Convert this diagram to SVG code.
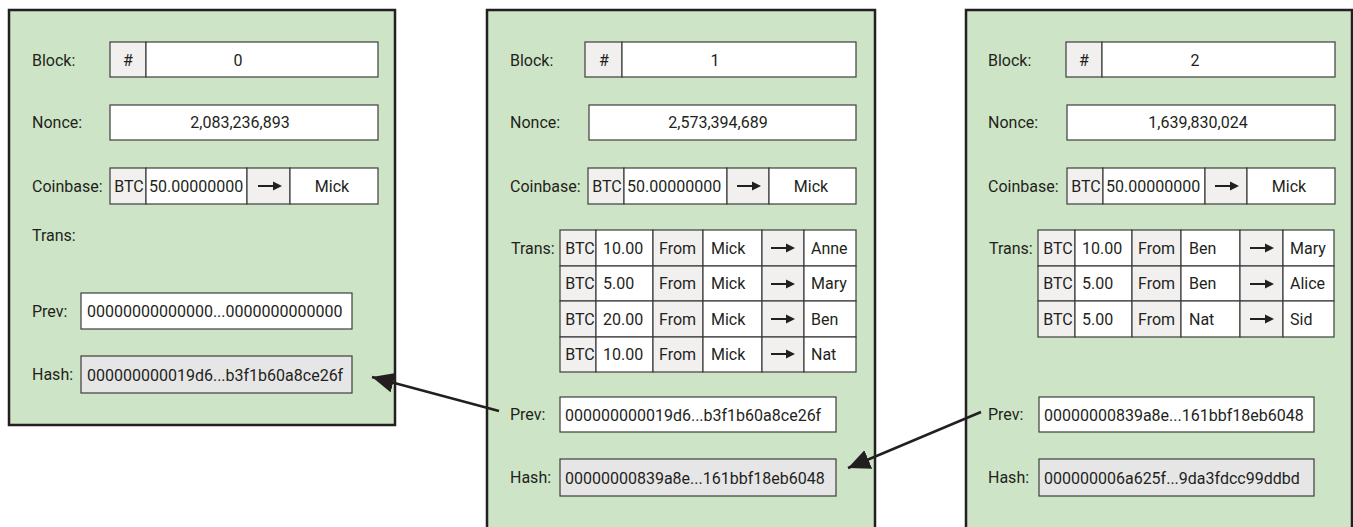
<svg xmlns="http://www.w3.org/2000/svg" xmlns:xlink="http://www.w3.org/1999/xlink" width="1353" height="527" viewBox="0 0 1353 527">
  <style>
    .panel { fill: #cde5c6; stroke: #231f20; stroke-width: 2.5; }
    .box { fill: #ffffff; stroke: #3c3c3c; stroke-width: 1.2; }
    .grey { fill: #f1f0ef; stroke: #3c3c3c; stroke-width: 1.2; }
    .hash { fill: #e6e6e6; stroke: #3c3c3c; stroke-width: 1.2; }
    text { font-family: Roboto, "Open Sans", "Liberation Sans", sans-serif; font-size: 16px; fill: #231f20; }
    .c { text-anchor: middle; }
    .link { fill: none; stroke: #231f20; stroke-width: 2.5; }
  </style>
  <defs>
    <!-- small right arrow used inside the transfer cells -->
    <g id="arr">
      <line x1="-12" y1="0" x2="4" y2="0" stroke="#231f20" stroke-width="2"/>
      <polygon points="3,-4.5 12,0 3,4.5" fill="#231f20"/>
    </g>
    <marker id="head" markerUnits="userSpaceOnUse" markerWidth="24" markerHeight="22" refX="22" refY="10" orient="auto">
      <path d="M0,0 L22,10 L0,20 z" fill="#231f20"/>
    </marker>
  </defs>

  <!-- Block 0 -->
  <g id="block0">
    <rect class="panel" x="9" y="10" width="386" height="415"/>
    <text x="32" y="66">Block:</text>
    <rect class="grey" x="110" y="42" width="36" height="35"/>
    <rect class="box" x="146" y="42" width="232" height="35"/>
    <text class="c" x="128" y="66">#</text>
    <text class="c" x="238" y="66">0</text>

    <text x="32" y="128">Nonce:</text>
    <rect class="box" x="110" y="105" width="268" height="35"/>
    <text class="c" x="240" y="128">2,083,236,893</text>

    <text x="32" y="192">Coinbase:</text>
    <rect class="grey" x="110" y="168" width="36" height="36"/>
    <rect class="box" x="146" y="168" width="101" height="36"/>
    <rect class="grey" x="247" y="168" width="43" height="36"/>
    <rect class="box" x="290" y="168" width="88" height="36"/>
    <text class="c" x="129" y="192">BTC</text>
    <text x="149" y="192">50.00000000</text>
    <use xlink:href="#arr" x="270" y="186"/>
    <text class="c" x="332" y="192">Mick</text>

    <text x="32" y="241">Trans:</text>

    <text x="32" y="317">Prev:</text>
    <rect class="box" x="81" y="293" width="271" height="36"/>
    <text x="87" y="317">00000000000000...0000000000000</text>

    <text x="32" y="380">Hash:</text>
    <rect class="hash" x="81" y="356" width="271" height="37"/>
    <text x="87" y="381">000000000019d6...b3f1b60a8ce26f</text>
  </g>

  <!-- Block 1 -->
  <g id="block1" transform="translate(478,0)">
    <rect class="panel" x="9" y="10" width="388" height="530"/>
    <text x="32" y="66">Block:</text>
    <rect class="grey" x="107" y="42" width="37" height="35"/>
    <rect class="box" x="144" y="42" width="234" height="35"/>
    <text class="c" x="126" y="66">#</text>
    <text class="c" x="237" y="66">1</text>

    <text x="32" y="128">Nonce:</text>
    <rect class="box" x="111" y="105" width="267" height="35"/>
    <text class="c" x="240" y="128">2,573,394,689</text>

    <text x="32" y="192">Coinbase:</text>
    <rect class="grey" x="110" y="168" width="36" height="36"/>
    <rect class="box" x="146" y="168" width="103" height="36"/>
    <rect class="grey" x="249" y="168" width="42" height="36"/>
    <rect class="box" x="291" y="168" width="87" height="36"/>
    <text class="c" x="129" y="192">BTC</text>
    <text x="149" y="192">50.00000000</text>
    <use xlink:href="#arr" x="271" y="186"/>
    <text class="c" x="333" y="192">Mick</text>

    <text x="33" y="254">Trans:</text>
    <g id="tx1">
      <!-- row 1 -->
      <rect class="grey" x="82" y="230" width="36" height="36"/>
      <rect class="box" x="118" y="230" width="57" height="36"/>
      <rect class="grey" x="175" y="230" width="50" height="36"/>
      <rect class="box" x="225" y="230" width="59" height="36"/>
      <rect class="grey" x="284" y="230" width="42" height="36"/>
      <rect class="box" x="326" y="230" width="52" height="36"/>
      <!-- row 2 -->
      <rect class="grey" x="82" y="266" width="36" height="35"/>
      <rect class="box" x="118" y="266" width="57" height="35"/>
      <rect class="grey" x="175" y="266" width="50" height="35"/>
      <rect class="box" x="225" y="266" width="59" height="35"/>
      <rect class="grey" x="284" y="266" width="42" height="35"/>
      <rect class="box" x="326" y="266" width="52" height="35"/>
      <!-- row 3 -->
      <rect class="grey" x="82" y="301" width="36" height="36"/>
      <rect class="box" x="118" y="301" width="57" height="36"/>
      <rect class="grey" x="175" y="301" width="50" height="36"/>
      <rect class="box" x="225" y="301" width="59" height="36"/>
      <rect class="grey" x="284" y="301" width="42" height="36"/>
      <rect class="box" x="326" y="301" width="52" height="36"/>
      <!-- row 4 -->
      <rect class="grey" x="82" y="337" width="36" height="35"/>
      <rect class="box" x="118" y="337" width="57" height="35"/>
      <rect class="grey" x="175" y="337" width="50" height="35"/>
      <rect class="box" x="225" y="337" width="59" height="35"/>
      <rect class="grey" x="284" y="337" width="42" height="35"/>
      <rect class="box" x="326" y="337" width="52" height="35"/>

      <text class="c" x="102" y="254">BTC</text>
      <text x="125" y="254">10.00</text>
      <text x="181" y="254">From</text>
      <text x="233" y="254">Mick</text>
      <use xlink:href="#arr" x="305" y="248"/>
      <text x="333" y="254">Anne</text>

      <text class="c" x="102" y="289">BTC</text>
      <text x="125" y="289">5.00</text>
      <text x="181" y="289">From</text>
      <text x="233" y="289">Mick</text>
      <use xlink:href="#arr" x="305" y="284"/>
      <text x="333" y="289">Mary</text>

      <text class="c" x="102" y="325">BTC</text>
      <text x="125" y="325">20.00</text>
      <text x="181" y="325">From</text>
      <text x="233" y="325">Mick</text>
      <use xlink:href="#arr" x="305" y="319"/>
      <text x="333" y="325">Ben</text>

      <text class="c" x="102" y="360">BTC</text>
      <text x="125" y="360">10.00</text>
      <text x="181" y="360">From</text>
      <text x="233" y="360">Mick</text>
      <use xlink:href="#arr" x="305" y="354"/>
      <text x="333" y="360">Nat</text>
    </g>

    <text x="32" y="420">Prev:</text>
    <rect class="box" x="82" y="397" width="276" height="35"/>
    <text x="87" y="421">000000000019d6...b3f1b60a8ce26f</text>

    <text x="32" y="483">Hash:</text>
    <rect class="hash" x="82" y="459" width="276" height="37"/>
    <text x="87" y="484">00000000839a8e...161bbf18eb6048</text>
  </g>

  <!-- Block 2 -->
  <g id="block2" transform="translate(956,0)">
    <rect class="panel" x="10" y="10" width="386" height="530"/>
    <text x="32" y="66">Block:</text>
    <rect class="grey" x="110" y="42" width="36" height="35"/>
    <rect class="box" x="146" y="42" width="233" height="35"/>
    <text class="c" x="128" y="66">#</text>
    <text class="c" x="239" y="66">2</text>

    <text x="32" y="128">Nonce:</text>
    <rect class="box" x="111" y="105" width="268" height="35"/>
    <text class="c" x="242" y="128">1,639,830,024</text>

    <text x="32" y="192">Coinbase:</text>
    <rect class="grey" x="111" y="168" width="36" height="36"/>
    <rect class="box" x="147" y="168" width="102" height="36"/>
    <rect class="grey" x="249" y="168" width="42" height="36"/>
    <rect class="box" x="291" y="168" width="88" height="36"/>
    <text class="c" x="130" y="192">BTC</text>
    <text x="150" y="192">50.00000000</text>
    <use xlink:href="#arr" x="271" y="186"/>
    <text class="c" x="333" y="192">Mick</text>

    <text x="33" y="254">Trans:</text>
    <g id="tx2">
      <rect class="grey" x="82" y="230" width="37" height="36"/>
      <rect class="box" x="119" y="230" width="57" height="36"/>
      <rect class="grey" x="176" y="230" width="49" height="36"/>
      <rect class="box" x="225" y="230" width="59" height="36"/>
      <rect class="grey" x="284" y="230" width="43" height="36"/>
      <rect class="box" x="327" y="230" width="51" height="36"/>

      <rect class="grey" x="82" y="266" width="37" height="35"/>
      <rect class="box" x="119" y="266" width="57" height="35"/>
      <rect class="grey" x="176" y="266" width="49" height="35"/>
      <rect class="box" x="225" y="266" width="59" height="35"/>
      <rect class="grey" x="284" y="266" width="43" height="35"/>
      <rect class="box" x="327" y="266" width="51" height="35"/>

      <rect class="grey" x="82" y="301" width="37" height="36"/>
      <rect class="box" x="119" y="301" width="57" height="36"/>
      <rect class="grey" x="176" y="301" width="49" height="36"/>
      <rect class="box" x="225" y="301" width="59" height="36"/>
      <rect class="grey" x="284" y="301" width="43" height="36"/>
      <rect class="box" x="327" y="301" width="51" height="36"/>

      <text class="c" x="102" y="254">BTC</text>
      <text x="126" y="254">10.00</text>
      <text x="182" y="254">From</text>
      <text x="233" y="254">Ben</text>
      <use xlink:href="#arr" x="306" y="248"/>
      <text x="334" y="254">Mary</text>

      <text class="c" x="102" y="289">BTC</text>
      <text x="126" y="289">5.00</text>
      <text x="182" y="289">From</text>
      <text x="233" y="289">Ben</text>
      <use xlink:href="#arr" x="306" y="284"/>
      <text x="334" y="289">Alice</text>

      <text class="c" x="102" y="325">BTC</text>
      <text x="126" y="325">5.00</text>
      <text x="182" y="325">From</text>
      <text x="233" y="325">Nat</text>
      <use xlink:href="#arr" x="306" y="319"/>
      <text x="334" y="325">Sid</text>
    </g>

    <text x="32" y="420">Prev:</text>
    <rect class="box" x="83" y="397" width="275" height="35"/>
    <text x="88" y="421">00000000839a8e...161bbf18eb6048</text>

    <text x="32" y="483">Hash:</text>
    <rect class="hash" x="83" y="459" width="275" height="37"/>
    <text x="88" y="484">000000006a625f...9da3fdcc99ddbd</text>
  </g>

  <!-- links from each Prev field back to the previous block's Hash -->
  <g id="links">
    <line class="link" x1="499" y1="411" x2="372" y2="377" marker-end="url(#head)"/>
    <line class="link" x1="981" y1="412" x2="848" y2="468" marker-end="url(#head)"/>
  </g>
</svg>
